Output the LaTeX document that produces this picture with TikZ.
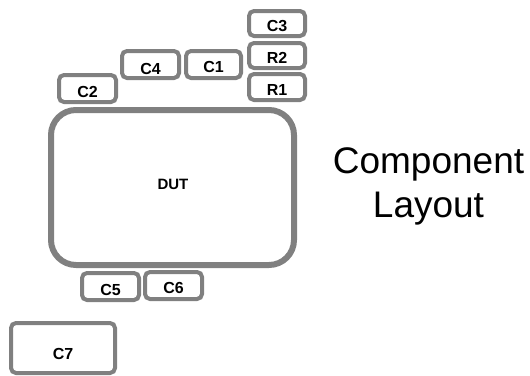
\documentclass[tikz,border=0pt]{standalone}
\usepackage{fontspec}
\setmainfont{Liberation Sans}
\begin{document}
\begin{tikzpicture}[x=1pt,y=-1pt,
  part/.style={draw=compgray, line width=4pt, rounded corners=5pt, inner sep=0pt,
    font=\fontsize{16}{19}\selectfont\bfseries, text height=16pt, text depth=0pt},
  bigpart/.style={draw=compgray, line width=6pt, rounded corners=25pt, inner sep=0pt},
  title/.style={font=\fontsize{37}{44}\selectfont, anchor=base, inner sep=0pt}]
\definecolor{compgray}{HTML}{808080}
\useasboundingbox (0,0) rectangle (530,375);
\node[part, minimum width=56pt, minimum height=25pt] (c3) at (277,23.5) {C3};
\node[part, minimum width=56pt, minimum height=25pt] (r2) at (277,55.5) {R2};
\node[part, minimum width=56pt, minimum height=26pt] (r1) at (277,87) {R1};
\node[part, minimum width=55pt, minimum height=27pt] (c1) at (213.5,64.5) {C1};
\node[part, minimum width=57pt, minimum height=27pt, text height=19pt] (c4) at (150.5,64.5) {C4};
\node[part, minimum width=57pt, minimum height=27pt, text height=18pt] (c2) at (87.5,88.5) {C2};
\node[part, minimum width=57pt, minimum height=27pt, text height=18pt] (c5) at (110.5,286.5) {C5};
\node[part, minimum width=57pt, minimum height=27pt] (c6) at (173.5,285.5) {C6};
\node[part, minimum width=104pt, minimum height=50pt, text height=23pt] (c7) at (63,348) {C7};
\node[bigpart, minimum width=243pt, minimum height=155pt] (dut) at (172.5,187.5) {};
\node[font=\fontsize{15}{18}\selectfont\bfseries, inner sep=0pt] (dutlabel) at (173,184.5) {DUT};
\node[title] (t1) at (428.5,173) {Component};
\node[title] (t2) at (428.5,217) {Layout};
\end{tikzpicture}
\end{document}
